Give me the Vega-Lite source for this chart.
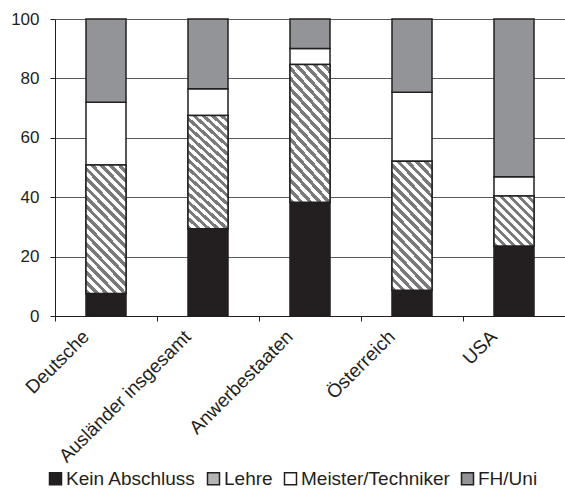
{
  "$schema": "https://vega.github.io/schema/vega-lite/v6.json",
  "width": 510,
  "height": 297,
  "autosize": {"type": "none"},
  "padding": {"left": 55, "top": 19, "right": 0, "bottom": 172},
  "background": "white",
  "data": {
    "values": [
      {"group": "Deutsche", "level": "Kein Abschluss", "rank": 1, "value": 7.6},
      {"group": "Deutsche", "level": "Lehre", "rank": 2, "value": 43.2},
      {"group": "Deutsche", "level": "Meister/Techniker", "rank": 3, "value": 21.2},
      {"group": "Deutsche", "level": "FH/Uni", "rank": 4, "value": 28.0},
      {"group": "Ausländer insgesamt", "level": "Kein Abschluss", "rank": 1, "value": 29.4},
      {"group": "Ausländer insgesamt", "level": "Lehre", "rank": 2, "value": 38.1},
      {"group": "Ausländer insgesamt", "level": "Meister/Techniker", "rank": 3, "value": 9.0},
      {"group": "Ausländer insgesamt", "level": "FH/Uni", "rank": 4, "value": 23.5},
      {"group": "Anwerbestaaten", "level": "Kein Abschluss", "rank": 1, "value": 38.3},
      {"group": "Anwerbestaaten", "level": "Lehre", "rank": 2, "value": 46.4},
      {"group": "Anwerbestaaten", "level": "Meister/Techniker", "rank": 3, "value": 5.4},
      {"group": "Anwerbestaaten", "level": "FH/Uni", "rank": 4, "value": 9.9},
      {"group": "Österreich", "level": "Kein Abschluss", "rank": 1, "value": 8.7},
      {"group": "Österreich", "level": "Lehre", "rank": 2, "value": 43.4},
      {"group": "Österreich", "level": "Meister/Techniker", "rank": 3, "value": 23.2},
      {"group": "Österreich", "level": "FH/Uni", "rank": 4, "value": 24.7},
      {"group": "USA", "level": "Kein Abschluss", "rank": 1, "value": 23.6},
      {"group": "USA", "level": "Lehre", "rank": 2, "value": 16.8},
      {"group": "USA", "level": "Meister/Techniker", "rank": 3, "value": 6.5},
      {"group": "USA", "level": "FH/Uni", "rank": 4, "value": 53.1}
    ]
  },
  "transform": [
    {"stack": "value", "groupby": ["group"], "sort": [{"field": "rank", "order": "ascending"}], "as": ["v0", "v1"]}
  ],
  "encoding": {
    "x": {
      "field": "group",
      "type": "nominal",
      "sort": null,
      "title": null,
      "scale": {"paddingInner": 0, "paddingOuter": 0},
      "axis": {
        "labelAngle": -45,
        "labelFontSize": 19,
        "labelFont": "Liberation Sans",
        "labelColor": "#231f20",
        "tickBand": "extent",
        "tickSize": 5,
        "tickColor": "#231f20",
        "domainColor": "#231f20",
        "labelPadding": 6,
        "labelOffset": -27,
        "labelLimit": 300,
        "grid": false
      }
    },
    "y": {
      "field": "v0",
      "type": "quantitative",
      "title": null,
      "scale": {"domain": [0, 100], "nice": false},
      "axis": {
        "values": [0, 20, 40, 60, 80, 100],
        "labelFontSize": 17,
        "labelFont": "Liberation Sans",
        "labelColor": "#231f20",
        "tickSize": 5,
        "tickColor": "#231f20",
        "domainColor": "#231f20",
        "gridColor": "#58595b",
        "gridWidth": 1,
        "labelPadding": 11
      }
    },
    "y2": {"field": "v1"}
  },
  "layer": [
    {
      "mark": {"type": "bar", "width": 40, "stroke": "#231f20", "strokeWidth": 1.5},
      "encoding": {
        "color": {
          "field": "level",
          "type": "nominal",
          "sort": null,
          "scale": {
            "domain": ["Kein Abschluss", "Lehre", "Meister/Techniker", "FH/Uni"],
            "range": ["#231f20", "#b4b4b4", "#ffffff", "#929497"]
          },
          "legend": {
            "title": null,
            "orient": "none",
            "direction": "horizontal",
            "legendX": -9,
            "legendY": 450,
            "padding": 0,
            "symbolType": "square",
            "symbolSize": 144,
            "symbolStrokeColor": "#231f20",
            "symbolStrokeWidth": 1.5,
            "symbolOpacity": 1,
            "labelFontSize": 19,
            "labelFont": "Liberation Sans",
            "labelColor": "#231f20",
            "labelOffset": 1,
            "labelLimit": 300,
            "columnPadding": 8
          }
        }
      }
    },
    {
      "transform": [{"filter": "datum.level === 'Lehre' && datum.group !== 'USA'"}],
      "mark": {
        "type": "bar",
        "width": 40,
        "stroke": "#231f20",
        "strokeWidth": 1.5,
        "fill": {"gradient": "linear", "x1": 0, "y1": 1, "x2": 0.384, "y2": -0.2, "stops": [
          {"offset": 0.0, "color": "#7a7a7a"}, {"offset": 0.02778, "color": "#7a7a7a"}, {"offset": 0.02778, "color": "#ffffff"}, {"offset": 0.05556, "color": "#ffffff"},
          {"offset": 0.05556, "color": "#7a7a7a"}, {"offset": 0.08333, "color": "#7a7a7a"}, {"offset": 0.08333, "color": "#ffffff"}, {"offset": 0.11111, "color": "#ffffff"},
          {"offset": 0.11111, "color": "#7a7a7a"}, {"offset": 0.13889, "color": "#7a7a7a"}, {"offset": 0.13889, "color": "#ffffff"}, {"offset": 0.16667, "color": "#ffffff"},
          {"offset": 0.16667, "color": "#7a7a7a"}, {"offset": 0.19444, "color": "#7a7a7a"}, {"offset": 0.19444, "color": "#ffffff"}, {"offset": 0.22222, "color": "#ffffff"},
          {"offset": 0.22222, "color": "#7a7a7a"}, {"offset": 0.25, "color": "#7a7a7a"}, {"offset": 0.25, "color": "#ffffff"}, {"offset": 0.27778, "color": "#ffffff"},
          {"offset": 0.27778, "color": "#7a7a7a"}, {"offset": 0.30556, "color": "#7a7a7a"}, {"offset": 0.30556, "color": "#ffffff"}, {"offset": 0.33333, "color": "#ffffff"},
          {"offset": 0.33333, "color": "#7a7a7a"}, {"offset": 0.36111, "color": "#7a7a7a"}, {"offset": 0.36111, "color": "#ffffff"}, {"offset": 0.38889, "color": "#ffffff"},
          {"offset": 0.38889, "color": "#7a7a7a"}, {"offset": 0.41667, "color": "#7a7a7a"}, {"offset": 0.41667, "color": "#ffffff"}, {"offset": 0.44444, "color": "#ffffff"},
          {"offset": 0.44444, "color": "#7a7a7a"}, {"offset": 0.47222, "color": "#7a7a7a"}, {"offset": 0.47222, "color": "#ffffff"}, {"offset": 0.5, "color": "#ffffff"},
          {"offset": 0.5, "color": "#7a7a7a"}, {"offset": 0.52778, "color": "#7a7a7a"}, {"offset": 0.52778, "color": "#ffffff"}, {"offset": 0.55556, "color": "#ffffff"},
          {"offset": 0.55556, "color": "#7a7a7a"}, {"offset": 0.58333, "color": "#7a7a7a"}, {"offset": 0.58333, "color": "#ffffff"}, {"offset": 0.61111, "color": "#ffffff"},
          {"offset": 0.61111, "color": "#7a7a7a"}, {"offset": 0.63889, "color": "#7a7a7a"}, {"offset": 0.63889, "color": "#ffffff"}, {"offset": 0.66667, "color": "#ffffff"},
          {"offset": 0.66667, "color": "#7a7a7a"}, {"offset": 0.69444, "color": "#7a7a7a"}, {"offset": 0.69444, "color": "#ffffff"}, {"offset": 0.72222, "color": "#ffffff"},
          {"offset": 0.72222, "color": "#7a7a7a"}, {"offset": 0.75, "color": "#7a7a7a"}, {"offset": 0.75, "color": "#ffffff"}, {"offset": 0.77778, "color": "#ffffff"},
          {"offset": 0.77778, "color": "#7a7a7a"}, {"offset": 0.80556, "color": "#7a7a7a"}, {"offset": 0.80556, "color": "#ffffff"}, {"offset": 0.83333, "color": "#ffffff"},
          {"offset": 0.83333, "color": "#7a7a7a"}, {"offset": 0.86111, "color": "#7a7a7a"}, {"offset": 0.86111, "color": "#ffffff"}, {"offset": 0.88889, "color": "#ffffff"},
          {"offset": 0.88889, "color": "#7a7a7a"}, {"offset": 0.91667, "color": "#7a7a7a"}, {"offset": 0.91667, "color": "#ffffff"}, {"offset": 0.94444, "color": "#ffffff"},
          {"offset": 0.94444, "color": "#7a7a7a"}, {"offset": 0.97222, "color": "#7a7a7a"}, {"offset": 0.97222, "color": "#ffffff"}, {"offset": 1.0, "color": "#ffffff"}
        ]}
      }
    },
    {
      "transform": [{"filter": "datum.level === 'Lehre' && datum.group === 'USA'"}],
      "mark": {
        "type": "bar",
        "width": 40,
        "stroke": "#231f20",
        "strokeWidth": 1.5,
        "fill": {"gradient": "linear", "x1": 0, "y1": 1, "x2": 0.88, "y2": -0.1, "stops": [
          {"offset": 0.0, "color": "#7a7a7a"}, {"offset": 0.05, "color": "#7a7a7a"}, {"offset": 0.05, "color": "#ffffff"}, {"offset": 0.1, "color": "#ffffff"},
          {"offset": 0.1, "color": "#7a7a7a"}, {"offset": 0.15, "color": "#7a7a7a"}, {"offset": 0.15, "color": "#ffffff"}, {"offset": 0.2, "color": "#ffffff"},
          {"offset": 0.2, "color": "#7a7a7a"}, {"offset": 0.25, "color": "#7a7a7a"}, {"offset": 0.25, "color": "#ffffff"}, {"offset": 0.3, "color": "#ffffff"},
          {"offset": 0.3, "color": "#7a7a7a"}, {"offset": 0.35, "color": "#7a7a7a"}, {"offset": 0.35, "color": "#ffffff"}, {"offset": 0.4, "color": "#ffffff"},
          {"offset": 0.4, "color": "#7a7a7a"}, {"offset": 0.45, "color": "#7a7a7a"}, {"offset": 0.45, "color": "#ffffff"}, {"offset": 0.5, "color": "#ffffff"},
          {"offset": 0.5, "color": "#7a7a7a"}, {"offset": 0.55, "color": "#7a7a7a"}, {"offset": 0.55, "color": "#ffffff"}, {"offset": 0.6, "color": "#ffffff"},
          {"offset": 0.6, "color": "#7a7a7a"}, {"offset": 0.65, "color": "#7a7a7a"}, {"offset": 0.65, "color": "#ffffff"}, {"offset": 0.7, "color": "#ffffff"},
          {"offset": 0.7, "color": "#7a7a7a"}, {"offset": 0.75, "color": "#7a7a7a"}, {"offset": 0.75, "color": "#ffffff"}, {"offset": 0.8, "color": "#ffffff"},
          {"offset": 0.8, "color": "#7a7a7a"}, {"offset": 0.85, "color": "#7a7a7a"}, {"offset": 0.85, "color": "#ffffff"}, {"offset": 0.9, "color": "#ffffff"},
          {"offset": 0.9, "color": "#7a7a7a"}, {"offset": 0.95, "color": "#7a7a7a"}, {"offset": 0.95, "color": "#ffffff"}, {"offset": 1.0, "color": "#ffffff"}
        ]}
      }
    }
  ],
  "config": {
    "view": {"stroke": null},
    "font": "Liberation Sans"
  }
}
